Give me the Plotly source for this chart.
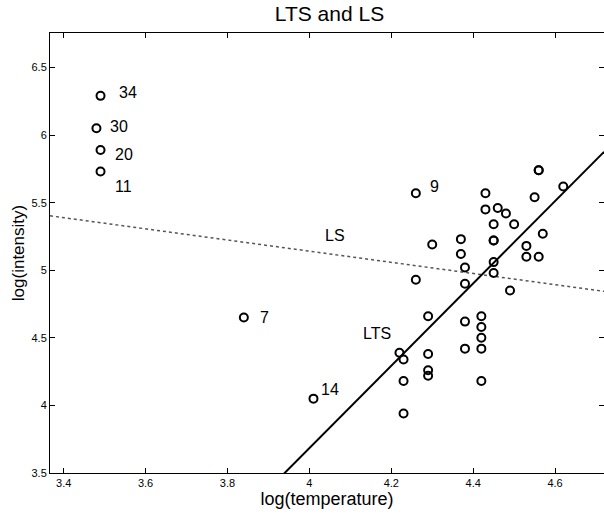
import plotly.graph_objects as go
import numpy as np

# Star cluster CYG OB1 data
log_temp = [4.37, 4.56, 4.26, 4.56, 4.30, 4.46, 3.84, 4.57, 4.26, 4.37,
            3.49, 4.43, 4.48, 4.01, 4.29, 4.42, 4.23, 4.42, 4.23, 3.49,
            4.29, 4.29, 4.42, 4.49, 4.38, 4.42, 4.29, 4.38, 4.22, 3.48,
            4.38, 4.56, 4.45, 3.49, 4.23, 4.62, 4.53, 4.45, 4.53, 4.43,
            4.38, 4.45, 4.50, 4.45, 4.55, 4.45, 4.42]
log_light = [5.23, 5.74, 4.93, 5.74, 5.19, 5.46, 4.65, 5.27, 5.57, 5.12,
             5.73, 5.45, 5.42, 4.05, 4.26, 4.58, 3.94, 4.18, 4.18, 5.89,
             4.38, 4.22, 4.42, 4.85, 5.02, 4.66, 4.66, 4.90, 4.39, 6.05,
             4.42, 5.10, 5.22, 6.29, 4.34, 5.62, 5.10, 5.22, 5.18, 5.57,
             4.62, 5.06, 5.34, 5.34, 5.54, 4.98, 4.50]

# fitted lines (intercept, slope)
lts_coef = [-8.500, 3.046]
ls_coef = [6.793, -0.413]

# labelled outliers
label_ids = ["34", "30", "20", "11", "9", "7", "14"]
label_x = [3.5373, 3.5154, 3.5276, 3.5276, 4.2976, 3.8830, 4.0317]
label_y = [6.314, 6.066, 5.856, 5.623, 5.620, 4.654, 4.121]

line_names = ["LS", "LTS"]
line_lab_x = [4.0414, 4.1332]
line_lab_y = [5.258, 4.5355]

xlim = [3.3666, 4.7195]
ylim = [3.5, 6.755]

xx = np.array(xlim)
fig = go.Figure()
fig.add_trace(go.Scatter(x=xx, y=ls_coef[0] + ls_coef[1] * xx, mode="lines",
                         line=dict(color="#555555", width=1.5, dash="dot"),
                         showlegend=False, hoverinfo="skip"))
fig.add_trace(go.Scatter(x=xx, y=lts_coef[0] + lts_coef[1] * xx, mode="lines",
                         line=dict(color="black", width=2),
                         showlegend=False, hoverinfo="skip"))
fig.add_trace(go.Scatter(x=log_temp, y=log_light, mode="markers",
                         marker=dict(symbol="circle-open", size=8, color="black",
                                     line=dict(width=2, color="black")),
                         showlegend=False))

for t, x, y in zip(label_ids + line_names, label_x + line_lab_x, label_y + line_lab_y):
    fig.add_annotation(x=x, y=y, text=t, showarrow=False, xanchor="left", yanchor="middle",
                       xshift=-2, borderpad=0,
                       font=dict(family="Liberation Sans, Arial", size=16, color="black"))

fig.update_layout(
    width=604, height=514,
    margin=dict(l=50, r=0, t=33, b=41),
    paper_bgcolor="white", plot_bgcolor="white",
    font=dict(family="Liberation Sans, Arial", color="black"),
    title=dict(text="LTS and LS", x=329.5 / 604, xanchor="center", y=1 - 14 / 514, yanchor="middle",
               font=dict(size=21, color="black")),
)
fig.update_xaxes(range=xlim, tickvals=[3.4, 3.6, 3.8, 4.0, 4.2, 4.4, 4.6],
                 ticktext=["3.4", "3.6", "3.8", "4", "4.2", "4.4", "4.6"],
                 ticks="inside", ticklen=5, tickcolor="black", tickwidth=1,
                 showline=True, linecolor="black", linewidth=1, mirror="ticks",
                 showgrid=False, zeroline=False, tickfont=dict(size=11),
                 title=dict(text="log(temperature)", font=dict(size=18), standoff=1))
fig.update_yaxes(range=ylim, tickvals=[3.5, 4, 4.5, 5, 5.5, 6, 6.5],
                 ticktext=["3.5", "4", "4.5", "5", "5.5", "6", "6.5"],
                 ticks="inside", ticklen=5, tickcolor="black", tickwidth=1,
                 showline=True, linecolor="black", linewidth=1, mirror="ticks",
                 showgrid=False, zeroline=False, tickfont=dict(size=11),
                 title=dict(text="log(intensity)", font=dict(size=17), standoff=2))

fig.write_html("out.html")
